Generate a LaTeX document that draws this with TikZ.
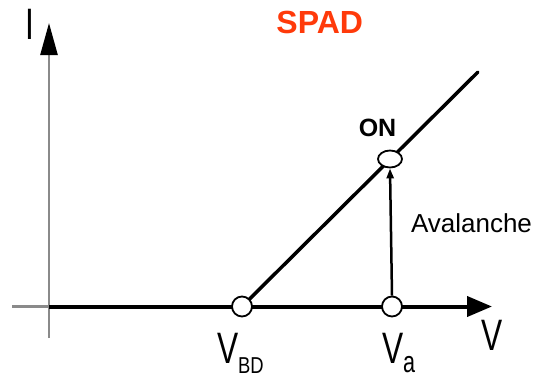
\documentclass[tikz,border=0pt]{standalone}
\usepackage{fontspec}
\setmainfont{Liberation Sans}
\newfontfamily\narrow[FakeStretch=0.72]{Liberation Sans}
\newfontfamily\narrowb[FakeStretch=0.8]{Liberation Sans}
\usetikzlibrary{arrows.meta,shapes.geometric}
\definecolor{spadred}{HTML}{FF3A0A}
\definecolor{axisgray}{HTML}{8A8A8A}
\begin{document}
\begin{tikzpicture}[x=1pt,y=-1pt,
  lbl/.style={inner sep=0pt,outer sep=0pt},
  dot/.style={circle,draw=black,line width=1.8pt,fill=white,minimum size=20pt,inner sep=0pt},
  ondot/.style={ellipse,draw=black,line width=1.8pt,fill=white,minimum width=24pt,minimum height=17pt,inner sep=0pt},
  gaxis/.style={draw=axisgray,line width=2.5pt},
  baxis/.style={draw=black,line width=4pt}]
\useasboundingbox (0,0) rectangle (540,380);
% coordinates
\coordinate (org) at (49,306.5);
\coordinate (ybot) at (49,338);
\coordinate (ytop) at (49,23);
\coordinate (xleft) at (12,306.5);
\coordinate (xend) at (492,306.5);
\coordinate (pbd) at (242,306.5);
\coordinate (pa) at (392,306.5);
\coordinate (pon) at (390,159);
\coordinate (lend) at (478,72);
% axes
\draw[gaxis,-{Triangle[length=32pt,width=17pt,color=black,fill=black]}] (ybot) -- (ytop);
\draw[gaxis] (xleft) -- (org);
\draw[baxis,-{Triangle[length=25pt,width=20pt]}] (org) -- (xend);
% characteristic
\draw[black,line width=3.5pt,line cap=round] (pbd) -- (lend);
% points
\node[dot] (vbd) at (pbd) {};
\node[dot] (va) at (pa) {};
\node[ondot] (on) at (pon) {};
\draw[black,line width=2.5pt,-{Triangle[length=10pt,width=7pt]}] (va.north) -- (on.south);
% labels
\node[lbl,anchor=base east,text=spadred] (title) at (363,33) {\fontsize{32}{32}\selectfont\bfseries SPAD};
\node[lbl,anchor=base] (ilbl) at (30,39) {\narrow\fontsize{44}{44}\selectfont I};
\node[lbl,anchor=base] (vlbl) at (492.5,350) {\narrow\fontsize{44}{44}\selectfont V};
\node[lbl,anchor=base west] (vbdlbl) at (217,363) {\narrow\fontsize{44}{44}\selectfont V\raisebox{-10pt}{\narrowb\fontsize{23}{23}\selectfont BD}};
\node[lbl,anchor=base west] (valbl) at (382,363) {\narrow\fontsize{44}{44}\selectfont V\raisebox{-9pt}{\fontsize{30}{30}\selectfont a}};
\node[lbl,anchor=base] (onlbl) at (377.5,136) {\fontsize{25}{25}\selectfont\bfseries ON};
\node[lbl,anchor=base west] (aval) at (411,232) {\fontsize{26}{26}\selectfont Avalanche};
\end{tikzpicture}
\end{document}
